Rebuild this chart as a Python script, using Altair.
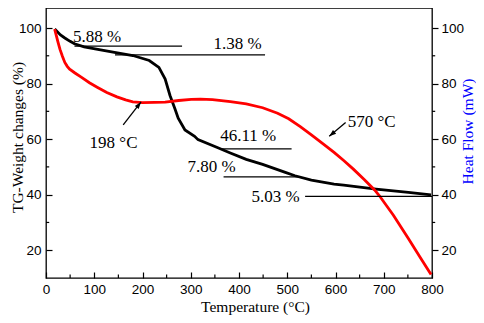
import altair as alt
import pandas as pd

# ---- data ----
tg_T = [18, 30, 39, 50, 59, 79, 113, 139, 180, 214, 234, 247, 257, 267, 274, 288,
        308, 315, 355, 382, 415, 449, 496, 516, 550, 597, 617, 684, 751, 798]
tg_w = [99.6, 97.5, 96.4, 95.2, 94.3, 93.2, 92.1, 91.3, 90.1, 88.3, 85.8, 81.6, 75.7,
        71.0, 67.5, 63.3, 61.0, 59.8, 57.0, 55.0, 52.7, 50.9, 48.0, 46.8, 45.2, 43.8,
        43.4, 42.0, 40.8, 39.9]

hf_T = [18, 21, 25, 29, 34, 39, 44, 49, 60, 73, 90, 106, 126, 147, 165, 180, 200, 225,
        247, 275, 301, 320, 345, 382, 415, 449, 480, 503, 527, 550, 575, 597, 617, 637,
        660, 681, 691, 720, 751, 775, 798]
hf_h = [99.6, 97.5, 94.8, 92.3, 89.8, 87.6, 86.2, 85.2, 83.8, 82.3, 80.3, 78.7, 76.8,
        75.2, 74.1, 73.4, 73.1, 73.2, 73.3, 73.9, 74.3, 74.4, 74.2, 73.5, 72.7, 71.3,
        69.3, 67.3, 64.5, 61.5, 58.2, 55.2, 52.3, 49.2, 45.4, 41.7, 39.6, 32.6, 24.2,
        17.6, 11.3]

# horizontal step lines
step_x1 = [59, 143, 361, 368, 537]
step_x2 = [282, 454, 509, 528, 800]
step_y = [93.5, 90.3, 56.45, 46.4, 39.4]

# annotation texts
ann_text = ["5.88 %", "1.38 %", "46.11 %", "7.80 %", "5.03 %", "198 °C", "570 °C"]
ann_T = [106, 397, 419, 343, 476, 140, 675]
ann_v = [96.9, 94.1, 61.0, 50.1, 39.1, 58.6, 66.0]

# arrows (tail -> head)
arr_T1 = [160, 621]
arr_v1 = [65.1, 66.0]
arr_T2 = [197, 587]
arr_v2 = [73.4, 61.0]
arr_ang = [38, 230]

x_ticks = [0, 100, 200, 300, 400, 500, 600, 700, 800]
x_minor = [50, 150, 250, 350, 450, 550, 650, 750]
y_ticks = [20, 40, 60, 80, 100]
y_minor = [30, 50, 70, 90]

tg = pd.DataFrame({"T": tg_T, "v": tg_w})
hf = pd.DataFrame({"T": hf_T, "v": hf_h})
steps = pd.DataFrame({"T": step_x1, "T2": step_x2, "v": step_y})
ann = pd.DataFrame({"T": ann_T, "v": ann_v, "t": ann_text})
arr = pd.DataFrame({"T": arr_T1, "v": arr_v1, "T2": arr_T2, "v2": arr_v2})
heads = pd.DataFrame({"T": arr_T2, "v": arr_v2, "a": arr_ang})
xm = pd.DataFrame({"T": x_minor})
ym = pd.DataFrame({"v": y_minor})

SERIF = "Liberation Serif, Times New Roman, serif"

W, H = 386, 270
xs = alt.Scale(domain=[0, 800], nice=False, zero=False)
ys = alt.Scale(domain=[10, 107.2], nice=False, zero=False)

x_axis = alt.Axis(values=x_ticks, tickSize=6, offset=-6, domain=False, labelPadding=4,
                  labelFlush=False, title="Temperature (°C)", titleFontSize=15.5,
                  titleX=209, titleY=39.5, titleBaseline="alphabetic", titleAlign="center")
yl_axis = alt.Axis(values=y_ticks, tickSize=6, offset=-6, domain=False, labelPadding=5,
                   orient="left", title="TG-Weight changes (%)", titleFontSize=15.5,
                   titleAngle=270, titleX=-30, titleY=129, titleBaseline="alphabetic",
                   titleAlign="center")
yr_axis = alt.Axis(values=y_ticks, tickSize=6, domain=False, labelPadding=3,
                   orient="right", title="Heat Flow (mW)", titleFontSize=15.5,
                   titleColor="#0000ff", titleAngle=270, titleX=40.5, titleY=123,
                   titleBaseline="alphabetic", titleAlign="center")

X = alt.X("T:Q", scale=xs, axis=x_axis)

black = alt.Chart(tg).mark_line(color="black", strokeWidth=2.8).encode(
    x=X, y=alt.Y("v:Q", scale=ys, axis=yl_axis))
red = alt.Chart(hf).mark_line(color="#ff0000", strokeWidth=2.8).encode(
    x=X, y=alt.Y("v:Q", scale=ys, axis=yr_axis))

step_lines = alt.Chart(steps).mark_rule(color="black", strokeWidth=1.3).encode(
    x=X, x2="T2:Q", y=alt.Y("v:Q", scale=ys, axis=None))

texts = alt.Chart(ann).mark_text(font=SERIF, fontSize=17, color="black",
                                 align="center", baseline="middle").encode(
    x=X, y=alt.Y("v:Q", scale=ys, axis=None), text="t:N")

arrow_lines = alt.Chart(arr).mark_rule(color="black", strokeWidth=1.3).encode(
    x=X, x2="T2:Q", y=alt.Y("v:Q", scale=ys, axis=None), y2="v2:Q")
arrow_heads = alt.Chart(heads).mark_point(shape="M0,0L0.7,2L-0.7,2Z", filled=True,
                                          color="black", opacity=1, size=49).encode(
    x=X, y=alt.Y("v:Q", scale=ys, axis=None),
    angle=alt.Angle("a:Q", scale=None))

minor_bottom = alt.Chart(xm).mark_rule(color="black", strokeWidth=1.2).encode(
    x=X, y=alt.value(H), y2=alt.value(H - 3.5))
minor_left = alt.Chart(ym).mark_rule(color="black", strokeWidth=1.2).encode(
    y=alt.Y("v:Q", scale=ys, axis=None), x=alt.value(0), x2=alt.value(3.2))
minor_right = alt.Chart(ym).mark_rule(color="black", strokeWidth=1.2).encode(
    y=alt.Y("v:Q", scale=ys, axis=None), x=alt.value(W), x2=alt.value(W + 3.2))

chart = alt.layer(
    black, red, step_lines, texts, arrow_lines, arrow_heads,
    minor_bottom, minor_left, minor_right
).resolve_scale(y="independent").properties(
    width=W, height=H,
    autosize=alt.AutoSizeParams(type="none"),
    padding={"left": 38, "top": 0, "right": 44, "bottom": 37},
).configure_view(
    stroke="black", strokeWidth=1.3
).configure_axis(
    labelFont="Liberation Sans", labelFontSize=13.5, labelColor="black",
    tickColor="black", tickWidth=1.2, grid=False,
    titleFont="Liberation Serif", titleFontWeight="normal", titleColor="black"
)

chart.save("out.html", embed_options={"renderer": "svg", "actions": False})
